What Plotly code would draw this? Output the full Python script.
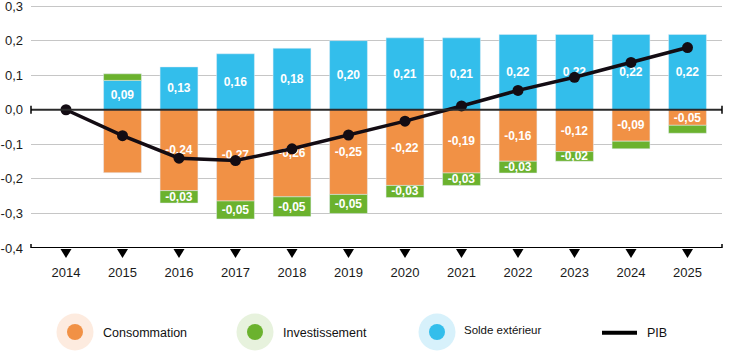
import plotly.graph_objects as go

# ---------------- data ----------------
YEARS = ["2014", "2015", "2016", "2017", "2018", "2019", "2020", "2021", "2022", "2023", "2024", "2025"]
BAR_YEARS = YEARS[1:]

SOLDE = [0.085, 0.124, 0.162, 0.178, 0.200, 0.208, 0.208, 0.218, 0.218, 0.218, 0.218]
SOLDE_LABELS = ["0,09", "0,13", "0,16", "0,18", "0,20", "0,21", "0,21", "0,22", "0,22", "0,22", "0,22"]

CONSO = [-0.182, -0.234, -0.264, -0.252, -0.245, -0.219, -0.183, -0.149, -0.121, -0.091, -0.045]
CONSO_LABELS = ["", "-0,24", "-0,27", "-0,26", "-0,25", "-0,22", "-0,19", "-0,16", "-0,12", "-0,09", "-0,05"]

INVEST = [0.019, -0.036, -0.052, -0.057, -0.055, -0.035, -0.036, -0.034, -0.028, -0.022, -0.023]
INVEST_LABELS = ["", "-0,03", "-0,05", "-0,05", "-0,05", "-0,03", "-0,03", "-0,03", "-0,02", "", ""]

PIB = [0.0, -0.075, -0.140, -0.147, -0.113, -0.073, -0.033, 0.011, 0.056, 0.094, 0.137, 0.180]

Y_TICKS = [0.3, 0.2, 0.1, 0.0, -0.1, -0.2, -0.3, -0.4]
Y_TICKTEXT = ["0,3", "0,2", "0,1", "0,0", "-0,1", "-0,2", "-0,3", "-0,4"]
Y_MIN, Y_MAX = -0.4, 0.3

LEGEND = ["Consommation", "Investissement", "Solde extérieur", "PIB"]

# ---------------- style ----------------
FONT = "Liberation Sans, Arial, sans-serif"
C_ORANGE, C_GREEN, C_BLUE, C_PIB = "#F19145", "#6BB22E", "#33BEEB", "#130C13"
H_ORANGE, H_GREEN, H_BLUE = "#FDEBDF", "#E7F2DD", "#D7F1FB"
W, H = 729, 351
ML, MR, MT, MB = 31, 7, 4, 103
PW, PH = W - ML - MR, H - MT - MB
TOP_PAD = 0.006  # a little room above the top gridline


def xp(px):
    return (px - ML) / PW


def yp(py):
    return (H - MB - py) / PH


bar_text = dict(color="white", size=12, family=FONT, weight="bold")

fig = go.Figure()
fig.add_trace(go.Bar(x=BAR_YEARS, y=SOLDE, text=SOLDE_LABELS, marker_color=C_BLUE,
                     textposition="inside", insidetextanchor="middle", textangle=0,
                     textfont=bar_text, hoverinfo="skip", name=LEGEND[2]))
fig.add_trace(go.Bar(x=BAR_YEARS, y=CONSO, text=CONSO_LABELS, marker_color=C_ORANGE,
                     textposition="inside", insidetextanchor="middle", textangle=0,
                     textfont=bar_text, hoverinfo="skip", name=LEGEND[0]))
fig.add_trace(go.Bar(x=BAR_YEARS, y=INVEST, text=INVEST_LABELS, marker_color=C_GREEN,
                     textposition="inside", insidetextanchor="middle", textangle=0,
                     textfont=bar_text, hoverinfo="skip", name=LEGEND[1]))
fig.add_trace(go.Scatter(x=YEARS, y=PIB, mode="lines+markers",
                         line=dict(color=C_PIB, width=3.5),
                         marker=dict(color=C_PIB, size=11),
                         hoverinfo="skip", name=LEGEND[3]))

shapes = [
    # zero line
    dict(type="line", xref="paper", yref="y", x0=0, x1=1, y0=0, y1=0,
         line=dict(color="#2a2a2a", width=2), layer="above"),
    # bottom axis line
    dict(type="line", xref="paper", yref="y", x0=0, x1=1, y0=Y_MIN, y1=Y_MIN,
         line=dict(color="#000", width=2), layer="above"),
]
for yv in (0, Y_MIN):
    for xv in (0, 1):
        shapes.append(dict(type="line", xref="paper", yref="y",
                           ysizemode="pixel", yanchor=yv, x0=xv, x1=xv, y0=-4, y1=4,
                           line=dict(color="#000", width=1.5), layer="above"))
# downward triangles under the bottom axis, one per category
for i, _ in enumerate(YEARS):
    shapes.append(dict(type="path", xref="x", yref="paper", xsizemode="pixel", ysizemode="pixel",
                       xanchor=i, yanchor=0, path="M-5.5,-1 L5.5,-1 L0,-10 Z",
                       fillcolor="#000", line=dict(width=0), layer="above"))

annotations = []
# manual legend
circ = [(75, 332, H_ORANGE, C_ORANGE), (255, 332, H_GREEN, C_GREEN), (437, 332, H_BLUE, C_BLUE)]
for cx, cy, hc, dc in circ:
    for r, col in ((18.5, hc), (8, dc)):
        shapes.append(dict(type="circle", xref="paper", yref="paper",
                           xsizemode="pixel", ysizemode="pixel",
                           xanchor=xp(cx), yanchor=yp(cy), x0=-r, x1=r, y0=-r, y1=r,
                           fillcolor=col, line=dict(width=0), layer="above"))
shapes.append(dict(type="line", xref="paper", yref="paper", x0=xp(602), x1=xp(637),
                   y0=yp(332.7), y1=yp(332.7), line=dict(color="#000", width=4)))

texts = [(102, 332.7, LEGEND[0], 12.5), (282, 332.7, LEGEND[1], 12.5),
         (463, 329.7, LEGEND[2], 11.5), (646, 332.5, LEGEND[3], 12.5)]
for tx, ty, t, s in texts:
    annotations.append(dict(xref="paper", yref="paper", x=xp(tx), y=yp(ty), text=t,
                            showarrow=False, xanchor="left", yanchor="middle",
                            borderpad=0, font=dict(family=FONT, size=s, color="#111")))

fig.update_layout(
    width=W, height=H,
    margin=dict(l=ML, r=MR, t=MT, b=MB, pad=0, autoexpand=False),
    paper_bgcolor="white", plot_bgcolor="white",
    barmode="relative", bargap=0.33,
    showlegend=False,
    font=dict(family=FONT, size=13, color="#1a1a1a"),
    uniformtext=dict(minsize=12, mode="show"),
    shapes=shapes, annotations=annotations,
)
fig.update_xaxes(type="category", categoryorder="array", categoryarray=YEARS,
                 range=[-(66 - ML) / 56.5, (W - MR - 66) / 56.5],
                 showgrid=False, zeroline=False, showline=False, ticks="",
                 automargin=False,
                 ticklabelstandoff=15, tickfont=dict(size=13, color="#1a1a1a"))
fig.update_yaxes(range=[Y_MIN, Y_MAX + TOP_PAD], tickvals=Y_TICKS, ticktext=Y_TICKTEXT,
                 showgrid=True, gridcolor="#c6c6c6", gridwidth=1,
                 zeroline=False, showline=False, ticks="", ticklabelstandoff=7,
                 ticklabeloverflow="allow", automargin=False,
                 tickfont=dict(size=13, color="#1a1a1a"))

fig.write_html("out.html")
